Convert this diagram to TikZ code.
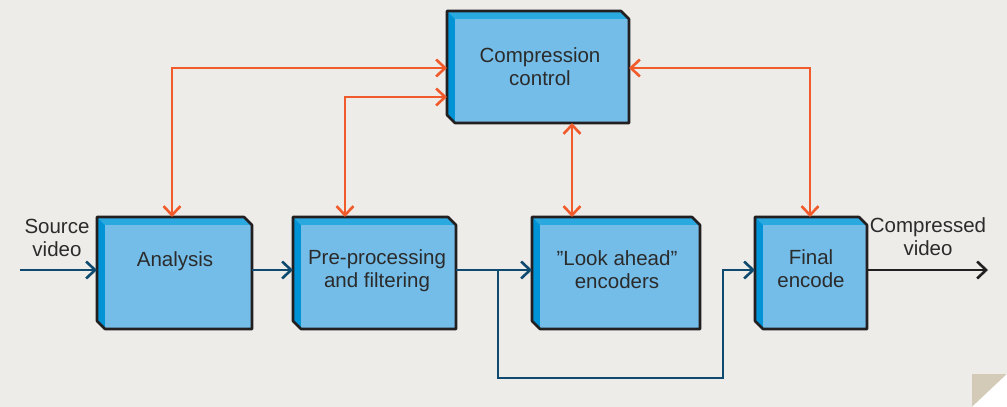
\documentclass[tikz,border=0pt]{standalone}
\usepackage{fontspec}
\setmainfont{Liberation Sans}
\usetikzlibrary{arrows.meta,calc}
\definecolor{bg}{HTML}{EDECE8}
\definecolor{boxleftc}{HTML}{0094D6}
\definecolor{boxtopc}{HTML}{29A9E0}
\definecolor{boxfacec}{HTML}{74BDE8}
\definecolor{outlinec}{HTML}{231F20}
\definecolor{ctlc}{HTML}{F15A2B}
\definecolor{flowc}{HTML}{0E4A70}
\definecolor{txtc}{HTML}{2B2B2B}
\definecolor{foldc}{HTML}{D4CAB8}
\newcommand\bevelbox[1]{%
  \fill[boxleftc] (#1.north west) -- ($(#1.north east)+(-8,0)$) -- ($(#1.north east)+(0,8)$) -- (#1.south east) -- ($(#1.south west)+(8,0)$) -- ($(#1.south west)+(0,-8)$) -- cycle;
  \fill[boxtopc] (#1.north west) -- ($(#1.north east)+(-8,0)$) -- ($(#1.north east)+(0,8)$) -- ($(#1.north west)+(8,8)$) -- cycle;
  \fill[boxfacec] ($(#1.north west)+(8,8)$) rectangle (#1.south east);
  \draw[outlinec,line width=2.6pt,line join=round] (#1.north west) -- ($(#1.north east)+(-8,0)$) -- ($(#1.north east)+(0,8)$) -- (#1.south east) -- ($(#1.south west)+(8,0)$) -- ($(#1.south west)+(0,-8)$) -- cycle;
}
\begin{document}
\begin{tikzpicture}[x=1pt,y=-1pt,
  blk/.style={rectangle,inner sep=0pt,outer sep=0pt,minimum height=112pt},
  lbl/.style={align=center,text=txtc,inner sep=0pt,font=\fontsize{20.5}{23}\selectfont},
  >={Straight Barb[length=9pt,width=17pt]},
  ctl/.style={ctlc,line width=2.6pt},
  flow/.style={flowc,line width=2.6pt},
  outflow/.style={outlinec,line width=2.6pt}]
\fill[bg] (0,0) rectangle (1007,407);
\useasboundingbox (0,0) rectangle (1007,407);
\fill[foldc] (972,374) -- (1007,374) -- (972,407) -- cycle;
\fill[white] (1007,374) -- (1007,407) -- (972,407) -- cycle;
% blocks
\node[blk,minimum width=182pt] (cc) at (538,67) {};
\node[blk,minimum width=155pt] (ana) at (174.5,273) {};
\node[blk,minimum width=163pt] (pre) at (374.5,273) {};
\node[blk,minimum width=168pt] (look) at (616,273) {};
\node[blk,minimum width=112pt] (fin) at (811,273) {};
\bevelbox{cc}
\bevelbox{ana}
\bevelbox{pre}
\bevelbox{look}
\bevelbox{fin}
% texts
\node[lbl] (ccT) at (540,67) {Compression\\control};
\node[lbl] (anaT) at (175,261) {Analysis};
\node[lbl] (preT) at (377,271) {Pre-processing\\and filtering};
\node[lbl] (lookT) at (617,270) {”Look ahead”\\encoders};
\node[lbl] (finT) at (811,269) {Final\\encode};
\node[lbl] (srcT) at (57,238) {Source\\video};
\node[lbl] (cmpT) at (928,237) {Compressed\\video};
% flow connectors
\coordinate (src) at (20,270);
\coordinate (out) at (988,270);
\draw[flow,->] (src) -- (src -| ana.west);
\draw[flow,->] ([yshift=3pt]ana.east) -- ([yshift=3pt]pre.west);
\draw[flow,->] ([yshift=3pt]pre.east) -- ([yshift=3pt]look.west);
\coordinate (br) at (498,270);
\coordinate (b1) at (498,378);
\coordinate (b2) at (723,378);
\coordinate (b3) at (723,270);
\draw[flow,->,line join=miter] (br) -- (b1) -- (b2) -- (b3) -- (b3 -| fin.west);
\draw[outflow,->] ([yshift=3pt]fin.east) -- (out);
% control connectors
\coordinate (c1) at (172,68);
\coordinate (c2) at (345,97);
\coordinate (c3) at (572,100);
\coordinate (c4) at (810,68);
\draw[ctl,<->] (c1 |- ana.north) -- (c1) -- (c1 -| cc.west);
\draw[ctl,<->] (c2 |- pre.north) -- (c2) -- (c2 -| cc.west);
\draw[ctl,<->] (c3 |- cc.south) -- (c3 |- look.north);
\draw[ctl,<->] (c4 -| cc.east) -- (c4) -- (c4 |- fin.north);
\end{tikzpicture}
\end{document}
